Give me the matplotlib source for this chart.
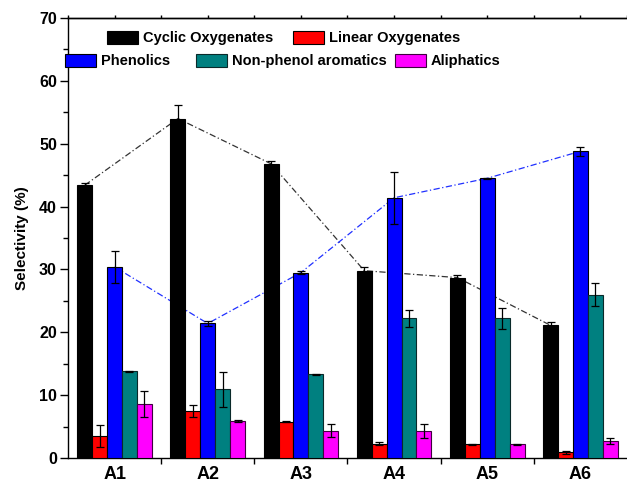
import numpy as np
import matplotlib
matplotlib.use("Agg")
import matplotlib.pyplot as plt

plt.rcParams['font.family'] = ['Liberation Sans', 'DejaVu Sans']
plt.rcParams['font.weight'] = 'bold'

# Samples and product-group selectivities (%)
samples = ["A1", "A2", "A3", "A4", "A5", "A6"]
series_names = ["Cyclic Oxygenates", "Linear Oxygenates", "Phenolics",
                "Non-phenol aromatics", "Aliphatics"]
cyclic = [43.4, 54.0, 46.8, 29.8, 28.7, 21.1]
linear = [3.5, 7.5, 5.8, 2.3, 2.2, 0.9]
phenolics = [30.4, 21.4, 29.5, 41.4, 44.5, 48.8]
nonphenol = [13.8, 10.9, 13.3, 22.2, 22.2, 26.0]
aliphatics = [8.6, 5.9, 4.35, 4.35, 2.2, 2.7]

cyclic_err = [0.3, 2.1, 0.5, 0.6, 0.4, 0.6]
linear_err = [1.7, 1.0, 0.1, 0.2, 0.1, 0.2]
phenolics_err = [2.6, 0.4, 0.3, 4.1, 0.1, 0.7]
nonphenol_err = [0.1, 2.8, 0.1, 1.4, 1.7, 1.8]
aliphatics_err = [2.0, 0.1, 1.0, 1.1, 0.1, 0.5]

values = [cyclic, linear, phenolics, nonphenol, aliphatics]
errors = [cyclic_err, linear_err, phenolics_err, nonphenol_err, aliphatics_err]
colors = ["#000000", "#FF0000", "#0000FF", "#008080", "#FF00FF"]
edge_colors = ["#000000", "#000000", "#000000", "#0a2a2a", "#400040"]

fig = plt.figure(figsize=(6.27, 4.83), dpi=100)
ax = fig.add_axes([68 / 627, 1 - 458 / 483, 1 - 68 / 627, (458 - 18) / 483])

x = np.arange(len(samples))
width = 0.16
offsets = (np.arange(5) - 2) * width

bars = []
for vals, errs, c, ec, off in zip(values, errors, colors, edge_colors, offsets):
    b = ax.bar(x + off, vals, width, color=c, edgecolor=ec, linewidth=0.8,
               yerr=errs, capsize=3,
               error_kw=dict(ecolor="black", elinewidth=0.9, capthick=0.9),
               zorder=3)
    bars.append(b)

# Trend lines through the cyclic oxygenates and phenolics bar tops
ax.plot(x + offsets[0], cyclic, color="#333333", lw=0.9,
        linestyle=(0, (5, 2, 1, 2)), zorder=2)
ax.plot(x + offsets[2], phenolics, color="#2030ff", lw=0.9,
        linestyle=(0, (5, 2, 1, 2)), zorder=2)

ax.set_xlim(-0.5, len(samples) - 0.5)
ax.set_ylim(0, 70)
ax.set_yticks(np.arange(0, 71, 10))
ax.set_yticks(np.arange(5, 70, 10), minor=True)
ax.set_xticks(x)
ax.set_xticklabels(samples, fontsize=13, fontweight="bold")
ax.set_xticks(np.arange(0.5, len(samples) - 0.5, 1), minor=True)
ax.tick_params(axis="x", which="major", length=0, pad=6)
ax.tick_params(axis="x", which="minor", length=4, width=1, direction="out")
ax.tick_params(axis="y", which="major", length=6, width=1, direction="out",
               labelsize=11.5, pad=2)
ax.tick_params(axis="y", which="minor", length=3.5, width=1, direction="out")
for lab in ax.get_yticklabels():
    lab.set_fontweight("bold")

ax.set_ylabel("Selectivity (%)", fontsize=11, fontweight="bold", labelpad=7)

for side in ["left", "bottom", "top"]:
    ax.spines[side].set_linewidth(1.0)
ax.spines["right"].set_visible(False)

top = ax.secondary_xaxis("top")
top.set_xticks(np.arange(-0.5, len(samples), 0.5))
top.set_xticklabels([])
top.tick_params(length=2.5, width=1, direction="out")
top.spines["top"].set_linewidth(1.0)

# Legend entries placed in two rows (left x in px, center y in px)
legend_pos = [(107, 38), (293, 38), (65, 61), (196, 61), (395, 61)]
for b, name, (px, py) in zip(bars, series_names, legend_pos):
    leg = fig.legend([b.patches[0]], [name], loc="center left",
                     bbox_to_anchor=(px / 627, 1 - py / 483),
                     frameon=False, borderpad=0, borderaxespad=0,
                     handlelength=2.15, handleheight=1.0, handletextpad=0.3,
                     prop=dict(size=10.5, weight="bold"))

fig.savefig("out.png", dpi=100)
